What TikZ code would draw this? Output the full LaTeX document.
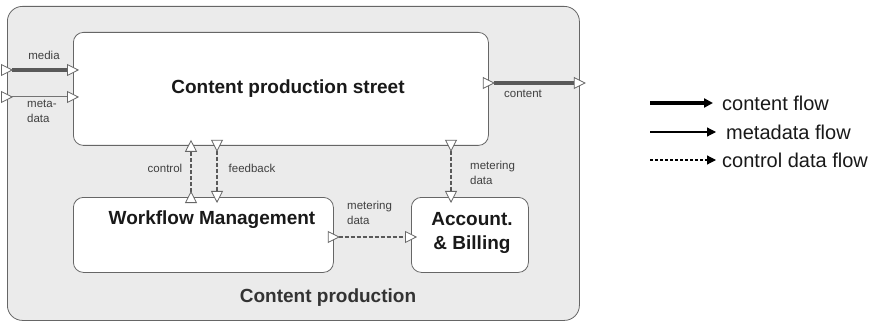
\documentclass[tikz,border=0pt]{standalone}
\usepackage{fontspec}
\setmainfont{Liberation Sans}
\usetikzlibrary{arrows.meta}
\begin{document}
\begin{tikzpicture}[x=1pt,y=-1pt,
  box/.style={draw=black!60, line width=0.8pt, rounded corners=10pt, fill=white,
    anchor=north west, inner sep=0pt},
  title/.style={font=\fontsize{19}{24}\selectfont\bfseries, text=black!90, align=center, inner sep=0pt},
  small/.style={font=\fontsize{11.5}{15}\selectfont, text=black!75, inner sep=0pt, align=left},
  legendtext/.style={font=\fontsize{20}{24}\selectfont, text=black!90, anchor=west, inner sep=0pt},
  port/.style={{Triangle[reversed,fill=white,color=black!60,line width=0.8pt,length=12pt,width=12pt]}-{Triangle[fill=white,color=black!60,line width=0.8pt,length=12pt,width=12pt]},
    shorten <=-6pt, shorten >=-6pt},
  contentflow/.style={draw=black!65, line width=3.5pt},
  metaflow/.style={draw=black!55, line width=1pt},
  ctrlflow/.style={draw=black!65, line width=1.8pt, dash pattern=on 4pt off 2pt},
  meterflow/.style={draw=black!65, line width=1.3pt, dash pattern=on 4pt off 2pt},
  legtip/.style={-{Triangle[length=9pt,width=9pt]}},
]
\useasboundingbox (0,0) rectangle (880,323);

% frame of the whole production domain
\node[box, fill=black!8, rounded corners=15pt, minimum width=572pt, minimum height=314pt] (outer) at (7,6) {};
\node[title, text=black!80] (outerlabel) at (328,298) {Content production};

% inner blocks
\node[box, minimum width=415pt, minimum height=113pt] (street) at (73,32) {};
\node[title] (streetlabel) at (288,89) {Content production street};

\node[box, minimum width=260pt, minimum height=75pt] (wf) at (73,197) {};
\node[title] (wflabel) at (212,220) {Workflow Management};

\node[box, minimum width=117pt, minimum height=75pt] (acc) at (411,197) {};
\node[title] (acclabel) at (472,233) {Account.\\\& Billing};

% ports
\path (outer.north west) ++(0,64) coordinate (mediaIn);
\path (street.north west) ++(0,38) coordinate (mediaOut);
\path (outer.north west) ++(0,91) coordinate (metaIn);
\path (street.north west) ++(0,65) coordinate (metaOut);
\path (street.north east) ++(0,51) coordinate (contentIn);
\path (outer.north east) ++(0,77) coordinate (contentOut);
\path (wf.north west) ++(118,0) coordinate (ctrlA);
\path (street.south west) ++(118,0) coordinate (ctrlB);
\path (street.south west) ++(144,0) coordinate (fbA);
\path (wf.north west) ++(144,0) coordinate (fbB);
\path (street.south west) ++(378,0) coordinate (mvA);
\path (acc.north west) ++(40,0) coordinate (mvB);
\path (wf.north east) ++(0,40) coordinate (mhA);
\path (acc.north west) ++(0,40) coordinate (mhB);

% flows
\draw[contentflow, port] (mediaIn) -- (mediaOut);
\draw[metaflow, port] (metaIn) -- (metaOut);
\draw[contentflow, port] (contentIn) -- (contentOut);
\draw[ctrlflow, port] (ctrlA) -- (ctrlB);
\draw[ctrlflow, port] (fbA) -- (fbB);
\draw[meterflow, port] (mvA) -- (mvB);
\draw[meterflow, port] (mhA) -- (mhB);

% flow labels
\node[small] (lmedia) at (44,55) {media};
\node[small, anchor=north west] (lmeta) at (27,100) {meta-\\data};
\node[small] (lcontent) at (523,94) {content};
\node[small] (lctrl) at (165,168) {control};
\node[small] (lfb) at (252,168) {feedback};
\node[small, anchor=north west] (lmv) at (470,161) {metering\\data};
\node[small, anchor=north west] (lmh) at (347,201) {metering\\data};

% legend
\coordinate (k1a) at (650,103); \coordinate (k1b) at (713,103);
\coordinate (k2a) at (650,132); \coordinate (k2b) at (716,132);
\coordinate (k3a) at (650,160); \coordinate (k3b) at (716,160);
\draw[legtip, line width=3.5pt] (k1a) -- (k1b);
\draw[legtip, line width=1.2pt] (k2a) -- (k2b);
\draw[legtip, line width=1.2pt, dash pattern=on 3pt off 2pt] (k3a) -- (k3b);
\node[legendtext] (t1) at (722,103) {content flow};
\node[legendtext] (t2) at (726,132) {metadata flow};
\node[legendtext] (t3) at (722,160) {control data flow};
\end{tikzpicture}
\end{document}
